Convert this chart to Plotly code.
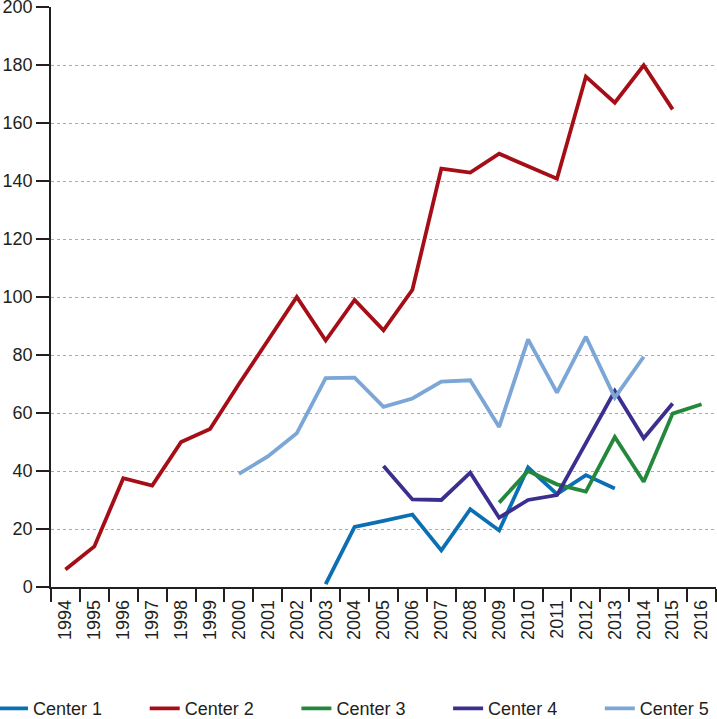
import plotly.graph_objects as go

years = [str(y) for y in range(1994, 2017)]

c1_years = ["2003", "2004", "2005", "2006", "2007", "2008", "2009", "2010", "2011", "2012", "2013"]
c1_vals = [1, 20.7, 22.8, 25, 12.6, 26.8, 19.5, 41.2, 32, 38.6, 34]

c2_years = [str(y) for y in range(1994, 2016)]
c2_vals = [6, 14, 37.5, 35, 50, 54.5, 70, 85, 100, 85, 99, 88.5, 102.5,
           144.3, 142.9, 149.4, 145, 140.8, 176, 167, 179.9, 164.7]

c3_years = ["2009", "2010", "2011", "2012", "2013", "2014", "2015", "2016"]
c3_vals = [29.1, 40, 35.4, 32.9, 51.7, 36.3, 59.8, 63]

c4_years = [str(y) for y in range(2005, 2016)]
c4_vals = [41.7, 30.2, 30, 39.4, 23.9, 30, 31.7, 49.6, 67.6, 51.3, 63.3]

c5_years = [str(y) for y in range(2000, 2015)]
c5_vals = [39, 45, 53, 72, 72.2, 62.1, 65, 70.8, 71.3, 55.2, 85.4, 67, 86.3, 65.3, 79.4]

series = [
    ("Center 1", c1_years, c1_vals, "#0a6fb3"),
    ("Center 2", c2_years, c2_vals, "#a50e17"),
    ("Center 3", c3_years, c3_vals, "#24883c"),
    ("Center 4", c4_years, c4_vals, "#3a2f8e"),
    ("Center 5", c5_years, c5_vals, "#7ba6d6"),
]

font_family = "Liberation Sans, Arial, sans-serif"
txt = "#231f20"
ML, MR, MT, MB = 51, 1, 7, 132
plot_w = 717 - ML - MR

fig = go.Figure()
legend_layout = {}
for i, (name, xs, ys, col) in enumerate(series):
    lname = "legend" if i == 0 else f"legend{i + 1}"
    fig.add_trace(go.Scatter(x=xs, y=ys, mode="lines", name=name,
                             line=dict(color=col, width=3.8), legend=lname))
    legend_px = i * 151.7 - 7
    legend_layout[lname] = dict(
        x=(legend_px - ML) / plot_w, xanchor="left", y=-0.2098, yanchor="middle",
        orientation="h", bgcolor="rgba(0,0,0,0)",
        font=dict(family=font_family, size=18, color=txt))

fig.update_layout(
    width=717, height=719,
    margin=dict(l=ML, r=MR, t=MT, b=MB, autoexpand=False),
    plot_bgcolor="white", paper_bgcolor="white",
    font=dict(family=font_family, size=18, color=txt),
    showlegend=True,
    xaxis=dict(type="category", categoryorder="array", categoryarray=years,
               range=[-0.5, 22.5], tickson="boundaries", ticks="outside", ticklen=13,
               tickcolor=txt, tickwidth=1.5, tickangle=-90, ticklabelstandoff=4,
               tickfont=dict(family=font_family, size=18, color=txt),
               showline=True, linecolor=txt, linewidth=1.5, automargin=False,
               showgrid=False, zeroline=False, fixedrange=True),
    yaxis=dict(range=[0, 200], tickmode="linear", tick0=0, dtick=20,
               ticks="outside", ticklen=13, tickcolor=txt, tickwidth=1.5,
               ticklabeloverflow="allow",
               tickfont=dict(family=font_family, size=18, color=txt),
               showline=True, linecolor=txt, linewidth=1.5, automargin=False,
               showgrid=True, gridcolor="#aaaaaa", gridwidth=1, griddash="dot",
               zeroline=False, fixedrange=True),
    **legend_layout,
)

fig.write_html("out.html", config={"displayModeBar": False},
               post_script="document.body.style.margin='0';")
